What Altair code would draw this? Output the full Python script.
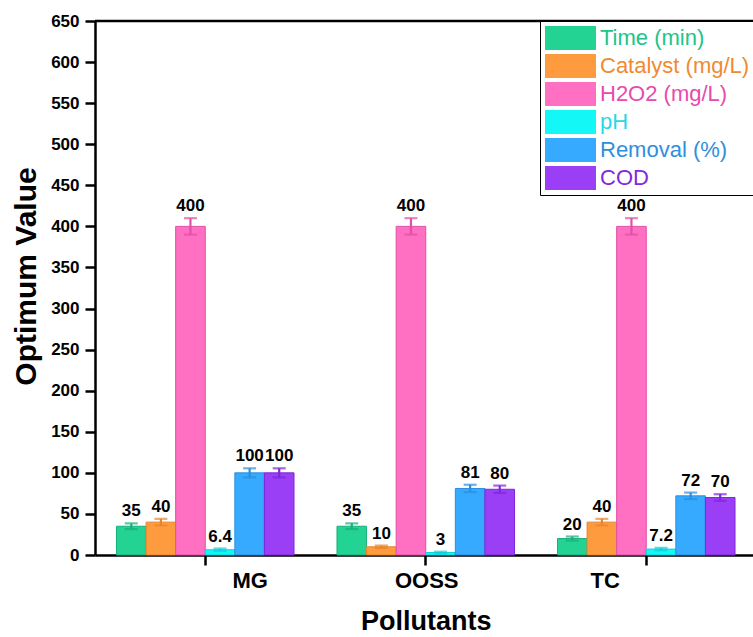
import json

import altair as alt
import pandas as pd

# Optimum operating values per pollutant
pollutants = ["MG", "OOSS", "TC"]
series = ["Time (min)", "Catalyst (mg/L)", "H2O2 (mg/L)", "pH", "Removal (%)", "COD"]

values_mg = [35, 40, 400, 6.4, 100, 100]
values_ooss = [35, 10, 400, 3, 81, 80]
values_tc = [20, 40, 400, 7.2, 72, 70]

err_mg = [3.5, 4, 10, 1.5, 5.5, 5.5]
err_ooss = [3.5, 1.5, 10, 1, 4.5, 4.5]
err_tc = [2.5, 4, 10, 1.5, 4, 4]

y_ticks = list(range(0, 651, 50))

bar_colors = ["#22D394", "#FF9B3F", "#FF6FC2", "#14F7F7", "#35AAFF", "#9B3FF7"]
edge_colors = ["#17B07A", "#E8842A", "#E24FA6", "#0FCFD8", "#2A8EE0", "#7E26DA"]
legend_text_colors = ["#20C48A", "#F08A30", "#E84AAE", "#2AD6E8", "#2E90DC", "#8328E0"]

rows = []
for p, vals, errs in zip(pollutants, [values_mg, values_ooss, values_tc], [err_mg, err_ooss, err_tc]):
    for s, v, e in zip(series, vals, errs):
        rows.append({"pollutant": p, "series": s, "value": v,
                     "lo": v - e, "hi": v + e, "label": f"{v:g}"})
df = pd.DataFrame(rows)

FONT = "Liberation Sans"

# per-category nudges for the x tick labels
label_shift = {"MG": 45, "OOSS": 1, "TC": -41}
shift_expr = " : ".join(f"datum.value === '{k}' ? {v}" for k, v in label_shift.items()) + " : 0"

legend_color_expr = (
    f"{json.dumps(legend_text_colors)}[indexof({json.dumps(series)}, datum.label)]"
)

x_axis = alt.Axis(
    title="Pollutants", labelAngle=0, labelOffset=alt.ExprRef(shift_expr),
    labelFont=FONT, labelFontSize=22, labelFontWeight="bold", labelColor="black",
    labelPadding=5, tickSize=10, tickWidth=2.5, tickColor="black",
    domainColor="black", domainWidth=2.5, grid=False,
    titleFont=FONT, titleFontSize=27, titleFontWeight="bold", titleColor="black",
    titlePadding=17,
)
y_axis = alt.Axis(
    values=y_ticks, title="Optimum Value",
    labelFont=FONT, labelFontSize=17, labelFontWeight="bold", labelColor="black",
    labelPadding=6, tickSize=10, tickWidth=2.5, tickColor="black",
    domainColor="black", domainWidth=2.5, grid=False,
    titleFont=FONT, titleFontSize=30, titleFontWeight="bold", titleColor="black",
    titlePadding=9, titleY=255,
)

# wide rectangular swatches: path spans 51 x 24 px at size 576
legend = alt.Legend(
    title=None, orient="none", legendX=445, legendY=0,
    symbolType="M-2.125,-1H2.125V1H-2.125Z", symbolSize=576, symbolStrokeWidth=0,
    symbolOffset=13.5, symbolOpacity=1, labelFont=FONT, labelFontSize=22,
    labelColor=alt.ExprRef(legend_color_expr), labelOffset=17.5,
    rowPadding=4, padding=5, strokeColor="black", fillColor="white",
)

base = alt.Chart(df).encode(
    x=alt.X("pollutant:N", sort=pollutants, axis=x_axis,
            scale=alt.Scale(range=[0, 661.5], paddingInner=0.195, paddingOuter=0.0975)),
    xOffset=alt.XOffset("series:N", sort=series,
                        scale=alt.Scale(paddingInner=0, paddingOuter=0)),
)

y_scale = alt.Scale(domain=[0, 650], nice=False)
stroke_scale = alt.Scale(domain=series, range=edge_colors)

bars = base.mark_bar(strokeWidth=1).encode(
    y=alt.Y("value:Q", scale=y_scale, axis=y_axis),
    color=alt.Color("series:N", sort=series,
                    scale=alt.Scale(domain=series, range=bar_colors), legend=legend),
    stroke=alt.Stroke("series:N", scale=stroke_scale, legend=None),
)

whiskers = base.mark_rule(strokeWidth=2.2).encode(
    y="lo:Q", y2="hi:Q",
    stroke=alt.Stroke("series:N", scale=stroke_scale, legend=None),
)

cap_fill = alt.Fill("series:N", scale=alt.Scale(domain=series, range=edge_colors), legend=None)
caps_hi = base.mark_tick(size=13, thickness=2.2).encode(y="hi:Q", fill=cap_fill)
caps_lo = base.mark_tick(size=13, thickness=2.2).encode(y="lo:Q", fill=cap_fill)

value_labels = base.mark_text(
    baseline="bottom", dy=-3, font=FONT, fontSize=17, fontWeight="bold", color="black"
).encode(y="hi:Q", text="label:N")

top_frame = alt.Chart(pd.DataFrame({"top": [y_ticks[-1]]})).mark_rule(
    color="black", strokeWidth=2.5
).encode(y="top:Q")

chart = alt.layer(bars, whiskers, caps_hi, caps_lo, value_labels, top_frame).properties(
    width=658, height=534,
    padding={"left": 95, "top": 21, "right": 0, "bottom": 82},
    autosize=alt.AutoSizeParams(type="none"),
    background="white",
).configure_view(strokeWidth=0)

chart.save("out.html", embed_options={"renderer": "svg", "actions": False})
